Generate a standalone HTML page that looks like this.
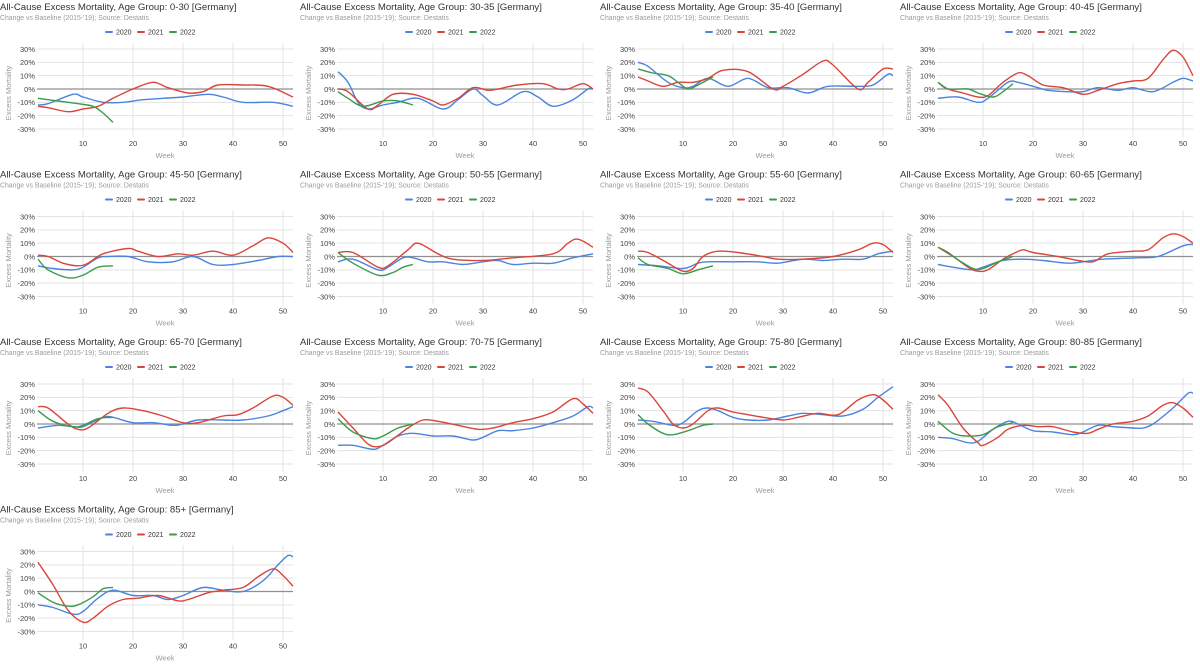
<!DOCTYPE html>
<html><head><meta charset="utf-8">
<style>
html,body{margin:0;padding:0;background:#fff;}
svg{display:block;font-family:"Liberation Sans",Arial,sans-serif;}
</style></head>
<body>
<svg id="chart" width="1200" height="670" viewBox="0 0 1200 670" xmlns="http://www.w3.org/2000/svg"></svg>
<script>
const ageGroups = ["0-30","30-35","35-40","40-45","45-50","50-55","55-60","60-65","65-70","70-75","75-80","80-85","85+"];
const yTicks = [30,20,10,0,-10,-20,-30];
const xTicks = [10,20,30,40,50];
const seriesYears = ["2020","2021","2022"];
const seriesColors = ["#4a84dd","#d9453a","#3a9a4e"];
const s2020 = [
[[1,-12],[3,-11],[8,-4],[10,-6],[14,-10],[18,-10],[22,-8],[26,-7],[30,-6],[35,-4],[38,-6],[42,-10],[48,-10],[52,-13]],
[[1,13],[3,5],[5,-10],[7,-15],[10,-12],[13,-10],[17,-7],[22,-15],[25,-8],[28,0],[30,-5],[33,-12],[38,-2],[41,-6],[44,-13],[48,-8],[51,0],[52,0]],
[[1,20],[3,17],[7,5],[10,1],[12,2],[15,8],[19,2],[23,8],[27,1],[31,1],[35,-3],[39,2],[45,2],[48,3],[51,11],[52,10]],
[[1,-7],[5,-6],[9,-10],[11,-7],[15,5],[17,5],[20,2],[23,-1],[27,-2],[30,-2],[33,1],[37,-1],[40,1],[44,-2],[48,5],[50,8],[52,6]],
[[1,-7],[4,-9],[8,-10],[10,-8],[13,-1],[15,0],[19,0],[23,-4],[28,-4],[32,0],[36,-6],[40,-6],[45,-3],[49,0],[52,0]],
[[1,-4],[4,-2],[9,-10],[11,-8],[14,-1],[16,-1],[19,-4],[22,-4],[26,-6],[30,-4],[33,-3],[36,-6],[40,-5],[44,-5],[48,-1],[52,2]],
[[1,-6],[5,-7],[10,-9],[13,-5],[15,-4],[20,-4],[25,-4],[29,-5],[34,-2],[38,-3],[42,-2],[46,-2],[49,2],[52,4]],
[[1,-6],[4,-8],[8,-10],[10,-8],[14,-3],[18,-2],[22,-3],[27,-5],[30,-4],[34,-2],[41,-1],[45,0],[50,8],[52,9]],
[[1,-3],[5,-1],[8,-2],[10,-2],[14,5],[16,5],[20,1],[24,1],[28,-1],[30,0],[33,3],[38,3],[42,3],[47,6],[50,10],[52,13]],
[[1,-16],[4,-16],[8,-19],[10,-16],[13,-9],[16,-7],[20,-9],[24,-9],[28,-12],[30,-10],[33,-5],[36,-5],[40,-3],[44,1],[48,6],[51,13],[52,12]],
[[1,3],[4,2],[8,-1],[10,1],[13,10],[15,12],[17,10],[20,5],[23,3],[27,3],[31,6],[34,8],[38,7],[42,6],[46,11],[49,20],[52,28]],
[[1,-10],[4,-11],[7,-14],[9,-13],[12,-4],[15,2],[17,0],[20,-5],[24,-6],[28,-8],[30,-6],[33,-1],[36,-2],[40,-3],[42,-3],[44,0],[48,12],[51,23],[52,23]],
[[1,-10],[4,-12],[8,-17],[10,-15],[13,-5],[16,1],[20,-3],[24,-3],[27,-6],[30,-3],[34,3],[38,1],[42,0],[46,8],[49,20],[51,27],[52,26]]
];
const s2021 = [
[[1,-13],[3,-14],[7,-17],[10,-15],[13,-13],[16,-7],[20,0],[24,5],[27,1],[31,-3],[34,-2],[37,3],[42,3],[47,2],[52,-6]],
[[1,0],[3,-2],[7,-15],[9,-12],[12,-4],[16,-4],[20,-9],[22,-12],[25,-7],[28,1],[31,-1],[33,0],[37,3],[42,4],[45,0],[47,0],[50,4],[52,0]],
[[1,9],[3,6],[6,2],[9,5],[12,5],[15,8],[18,14],[23,13],[28,0],[30,2],[34,11],[38,21],[40,18],[45,0],[47,5],[50,15],[52,15]],
[[1,5],[3,0],[6,-3],[9,-6],[11,-5],[14,5],[17,12],[19,10],[22,3],[26,1],[30,-4],[33,-1],[37,4],[40,6],[43,8],[46,22],[48,29],[50,24],[52,10]],
[[1,1],[3,0],[6,-5],[9,-7],[11,-5],[14,2],[19,6],[21,4],[25,0],[29,2],[32,1],[36,4],[40,1],[44,8],[47,14],[50,10],[52,3]],
[[1,3],[4,3],[9,-8],[11,-7],[15,5],[17,10],[21,2],[24,-2],[30,-3],[36,-1],[44,2],[47,10],[49,13],[52,7]],
[[1,4],[3,3],[7,-5],[10,-11],[12,-9],[14,0],[17,4],[21,3],[26,0],[29,-2],[34,-2],[40,0],[45,5],[48,10],[50,9],[52,3]],
[[1,7],[3,3],[7,-8],[9,-11],[11,-10],[14,-2],[16,2],[18,5],[20,3],[25,0],[29,-3],[32,-4],[35,2],[40,4],[43,5],[46,14],[48,17],[50,15],[52,10]],
[[1,13],[3,12],[7,0],[9,-4],[11,-3],[15,8],[18,12],[22,10],[26,6],[30,1],[33,1],[38,6],[41,7],[44,12],[48,21],[50,20],[52,14]],
[[1,9],[4,-3],[7,-15],[9,-17],[11,-14],[15,-3],[18,3],[21,2],[25,-1],[29,-4],[32,-3],[36,1],[40,4],[44,9],[48,19],[50,15],[52,8]],
[[1,27],[3,24],[6,10],[8,0],[10,-3],[12,0],[15,10],[17,12],[20,9],[23,7],[26,5],[30,3],[33,5],[37,8],[41,7],[45,18],[48,22],[50,18],[52,11]],
[[1,22],[3,14],[6,-3],[9,-14],[10,-16],[13,-10],[15,-4],[18,-1],[21,-2],[24,-2],[28,-6],[31,-7],[33,-4],[36,0],[40,2],[43,6],[46,14],[48,16],[50,12],[52,5]],
[[1,22],[4,5],[7,-14],[10,-23],[12,-20],[15,-11],[18,-6],[21,-5],[25,-3],[29,-7],[31,-6],[35,-1],[38,1],[42,3],[45,11],[48,17],[50,12],[52,4]]
];
const s2022 = [
[[1,-7],[5,-9],[9,-11],[12,-13],[14,-18],[16,-25]],
[[1,-2],[3,-7],[6,-13],[10,-9],[13,-9],[16,-12]],
[[1,15],[4,12],[7,10],[9,5],[11,0],[13,3],[16,9]],
[[1,5],[3,0],[7,0],[9,-3],[12,-6],[14,-2],[16,4]],
[[1,-2],[3,-10],[7,-16],[10,-14],[13,-8],[16,-7]],
[[1,3],[4,-5],[9,-14],[12,-12],[14,-8],[16,-6]],
[[1,-1],[3,-6],[7,-9],[10,-13],[13,-10],[16,-7]],
[[1,7],[4,0],[8,-9],[10,-9],[13,-4],[16,0]],
[[1,10],[4,2],[8,-2],[10,-1],[13,4],[16,5]],
[[1,4],[4,-6],[8,-11],[10,-9],[13,-3],[16,0]],
[[1,7],[3,0],[6,-7],[8,-8],[11,-5],[14,-1],[16,0]],
[[1,2],[4,-7],[7,-9],[10,-8],[13,-2],[16,1]],
[[1,-1],[4,-8],[7,-11],[9,-10],[12,-4],[14,2],[16,3]]
];
const allSeries = [s2020, s2021, s2022];

const NS = "http://www.w3.org/2000/svg";
const svg = document.getElementById("chart");
const colX = [0,300,600,900];
const rowY = [0,167.5,335,502.5];
function mk(tag, attrs, parent, text){
  const e = document.createElementNS(NS, tag);
  for (const k in attrs) e.setAttribute(k, attrs[k]);
  if (text !== undefined) e.textContent = text;
  parent.appendChild(e);
  return e;
}
function xScale(w){ return 33 + 5*w; }
function yScale(v){ return 89 - v*1.333; }
function smoothPath(pts){
  const p = pts.map(d => [xScale(d[0]), yScale(d[1])]);
  let d = "M" + p[0][0].toFixed(1) + "," + p[0][1].toFixed(1);
  for (let i = 0; i < p.length - 1; i++){
    const p0 = p[Math.max(i-1,0)], p1 = p[i], p2 = p[i+1], p3 = p[Math.min(i+2,p.length-1)];
    const c1x = p1[0] + (p2[0]-p0[0])/6, c1y = p1[1] + (p2[1]-p0[1])/6;
    const c2x = p2[0] - (p3[0]-p1[0])/6, c2y = p2[1] - (p3[1]-p1[1])/6;
    d += " C" + c1x.toFixed(1) + "," + c1y.toFixed(1) + " " + c2x.toFixed(1) + "," + c2y.toFixed(1) + " " + p2[0].toFixed(1) + "," + p2[1].toFixed(1);
  }
  return d;
}
const defs = mk("defs", {}, svg);
const cp = mk("clipPath", {id:"plotclip"}, defs);
mk("rect", {x:37, y:30, width:257, height:110}, cp);

ageGroups.forEach((ag, i) => {
  const g = mk("g", {transform:"translate(" + colX[i%4] + "," + rowY[Math.floor(i/4)] + ")"}, svg);
  
  
  const t = mk("text", {x:0, y:10, "font-size":"9.6", fill:"#333"}, g, "All-Cause Excess Mortality, Age Group: " + ag + " [Germany]");
  
  
  const st = mk("text", {x:0, y:20, "font-size":"6.9", fill:"#9a9a9a"}, g, "Change vs Baseline (2015-'19); Source: Destatis");
  
  
  const lx = [106, 138, 170];
  seriesYears.forEach((yr, k) => {
    const lg = mk("g", {}, g);
    
    
    mk("line", {x1:lx[k], x2:lx[k]+6, y1:32, y2:32, stroke:seriesColors[k], "stroke-width":"2", "stroke-linecap":"round"}, lg);
    mk("text", {x:lx[k]+10, y:34.5, "font-size":"7", fill:"#333"}, lg, yr);
  });
  xTicks.forEach(w => {
    const l = mk("line", {x1:xScale(w), x2:xScale(w), y1:43, y2:137, stroke:"#e3e3e3", "stroke-width":"1"}, g);
    
    
    const tx = mk("text", {x:xScale(w), y:146, "font-size":"7.5", fill:"#444", "text-anchor":"middle"}, g, String(w));
    
    
  });
  yTicks.forEach(v => {
    const l = mk("line", {x1:37, x2:293, y1:yScale(v), y2:yScale(v), stroke: v===0 ? "#8f8f8f" : "#e3e3e3", "stroke-width": v===0 ? "1.2" : "1"}, g);
    
    
    const ty = mk("text", {x:35, y:yScale(v)+2.8, "font-size":"7.5", fill:"#444", "text-anchor":"end"}, g, v + "%");
    
    
  });
  const xt = mk("text", {x:165, y:158, "font-size":"7.5", fill:"#9a9a9a", "text-anchor":"middle"}, g, "Week");
  
  
  const yt = mk("text", {x:0, y:0, "font-size":"7.5", fill:"#9a9a9a", "text-anchor":"middle", transform:"translate(11,93) rotate(-90)"}, g, "Excess Mortality");
  
  
  allSeries.forEach((s, k) => {
    const p = mk("path", {d:smoothPath(s[i]), fill:"none", stroke:seriesColors[k], "stroke-width":"1.4", "clip-path":"url(#plotclip)"}, g);
    
    
  });
});
</script>
</body></html>
